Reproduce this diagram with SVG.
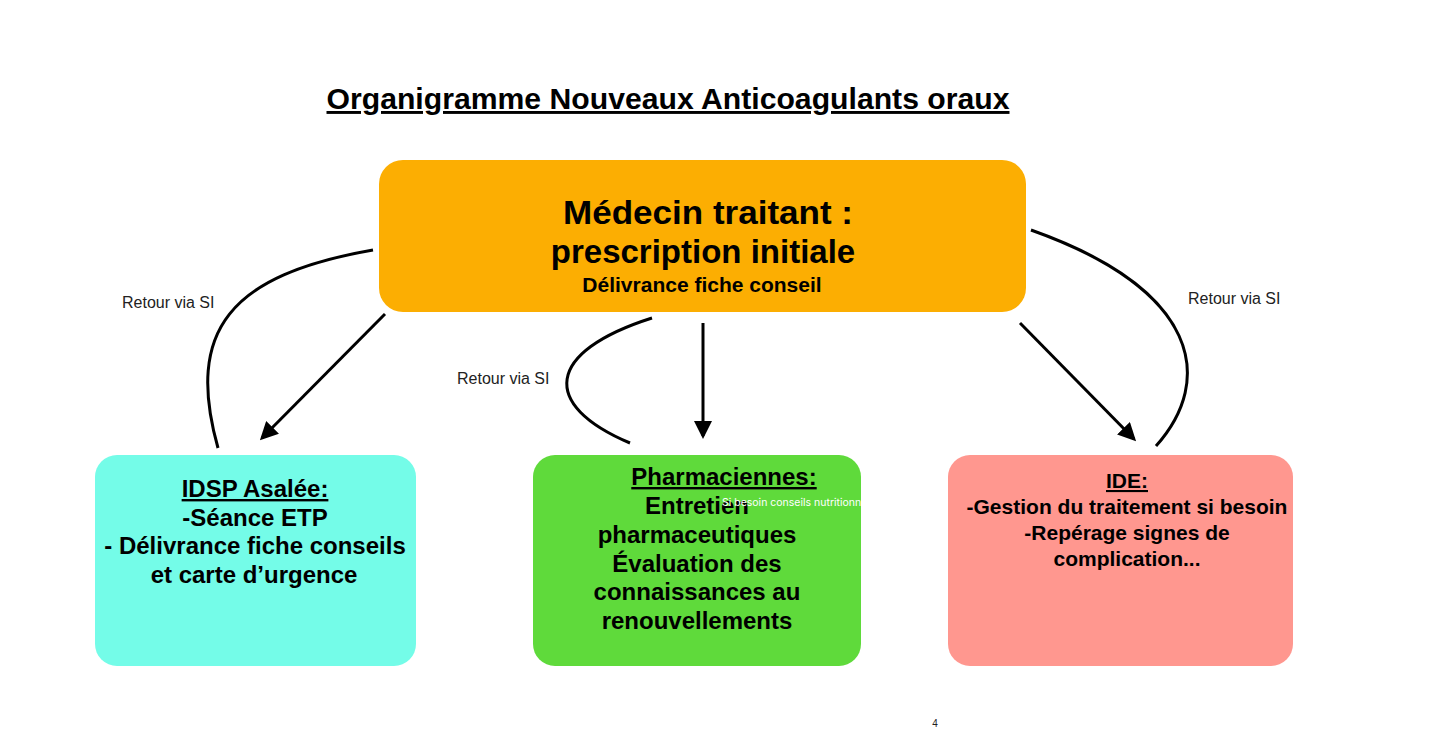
<svg xmlns="http://www.w3.org/2000/svg" width="1440" height="747" viewBox="0 0 1440 747">
<style>
.t{font-family:"Liberation Sans",Arial,sans-serif;font-weight:bold;fill:#000;text-anchor:middle}
.lbl{font-family:"Liberation Sans",Arial,sans-serif;font-size:16px;fill:#222}
.c{fill:none;stroke:#000;stroke-width:3}
</style>
<defs>
<marker id="ah" markerWidth="6" markerHeight="6" refX="5" refY="3" orient="auto" markerUnits="strokeWidth">
<path d="M0,0 L6,3 L0,6 Z" fill="#000"/>
</marker>
</defs>
<rect width="1440" height="747" fill="#fff"/>
<g id="title">
<text class="t" x="668" y="109" font-size="29" text-decoration="underline" textLength="683" lengthAdjust="spacingAndGlyphs">Organigramme Nouveaux Anticoagulants oraux</text>
</g>
<g id="connectors">
<path class="c" d="M373,250 C230,275 185,330 218,448"/>
<path class="c" d="M385,314 L262,438" marker-end="url(#ah)"/>
<path class="c" d="M652,318 C545,352 540,405 630,443"/>
<path class="c" d="M703,323 L703,436" marker-end="url(#ah)"/>
<path class="c" d="M1020,323 L1134,439" marker-end="url(#ah)"/>
<path class="c" d="M1031,230 C1200,290 1215,380 1156,446"/>
<text class="lbl" x="122" y="308">Retour via SI</text>
<text class="lbl" x="457" y="384">Retour via SI</text>
<text class="lbl" x="1188" y="304">Retour via SI</text>
</g>
<g id="medecin">
<rect x="379" y="160" width="647" height="152" rx="24" fill="#FCAE02"/>
<text class="t" x="708" y="224" font-size="34" textLength="290" lengthAdjust="spacingAndGlyphs">Médecin traitant :</text>
<text class="t" x="703" y="263" font-size="33">prescription initiale</text>
<text class="t" x="702" y="292" font-size="21">Délivrance fiche conseil</text>
</g>
<g id="idsp">
<rect x="95" y="455" width="321" height="211" rx="22" fill="#74FCE8"/>
<text class="t" x="255" y="497" font-size="24" text-decoration="underline">IDSP Asalée:</text>
<text class="t" x="255" y="526" font-size="24">-Séance ETP</text>
<text class="t" x="255" y="554" font-size="24">- Délivrance fiche conseils</text>
<text class="t" x="254" y="583" font-size="24">et carte d’urgence</text>
</g>
<g id="pharma">
<rect x="533" y="455" width="328" height="211" rx="22" fill="#5FDA3B"/>
<text class="t" x="724" y="485" font-size="24" text-decoration="underline">Pharmaciennes:</text>
<text class="t" x="697" y="514" font-size="24">Entretien</text>
<text class="t" x="697" y="543" font-size="24">pharmaceutiques</text>
<text class="t" x="697" y="572" font-size="24">Évaluation des</text>
<text class="t" x="697" y="600" font-size="24">connaissances au</text>
<text class="t" x="697" y="629" font-size="24">renouvellements</text>
<text x="722" y="506" font-family="Inter,'Liberation Sans',sans-serif" font-size="10.5" fill="#fff">Si besoin conseils nutritionnel</text>
</g>
<g id="ide">
<rect x="948" y="455" width="345" height="211" rx="22" fill="#FF978F"/>
<text class="t" x="1127" y="488" font-size="21" text-decoration="underline">IDE:</text>
<text class="t" x="1127" y="514" font-size="21">-Gestion du traitement si besoin</text>
<text class="t" x="1127" y="540" font-size="21">-Repérage signes de</text>
<text class="t" x="1127" y="566" font-size="21">complication...</text>
</g>
<text x="935" y="727" font-family="'Liberation Sans',Arial,sans-serif" font-size="10" fill="#222" text-anchor="middle">4</text>
</svg>
